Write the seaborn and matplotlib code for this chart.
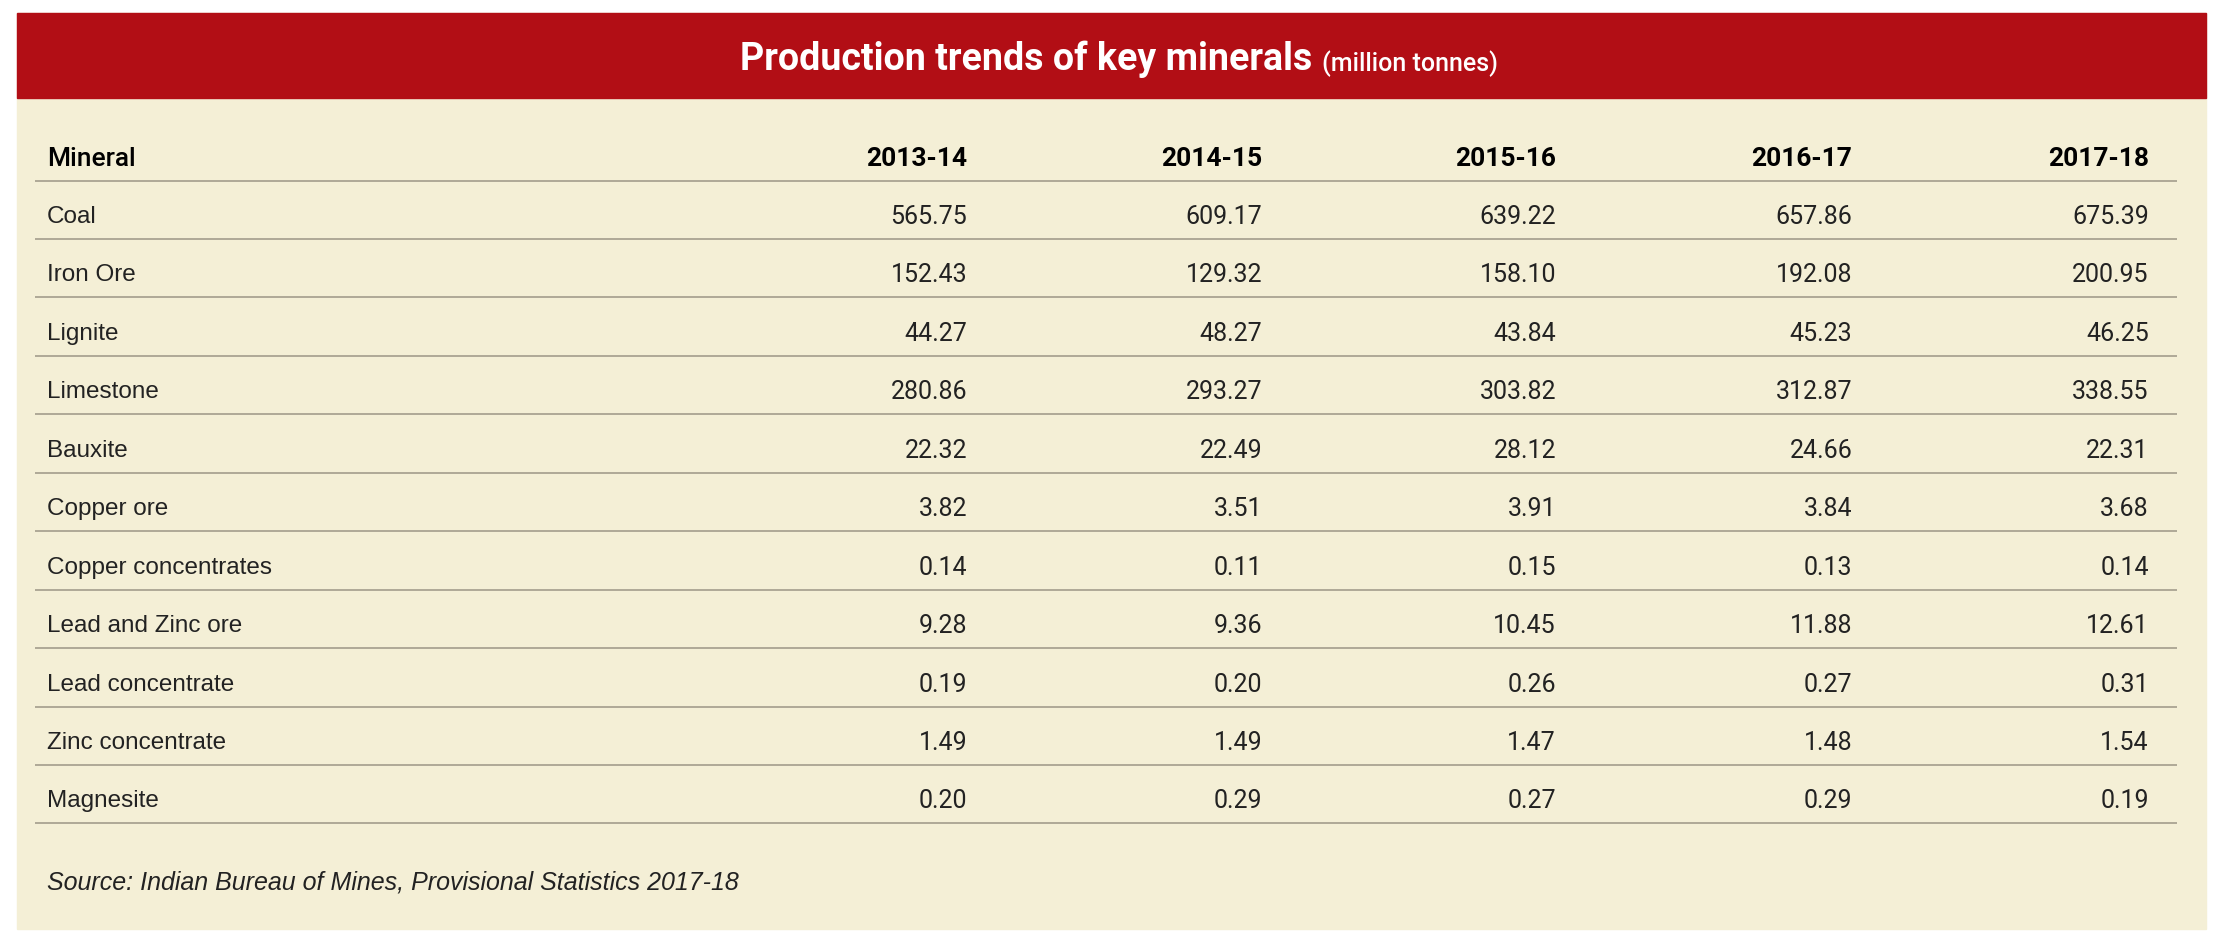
import matplotlib.pyplot as plt
import matplotlib.patches as patches
import seaborn as sns

minerals = ["Coal", "Iron Ore", "Lignite", "Limestone", "Bauxite", "Copper ore",
            "Copper concentrates", "Lead and Zinc ore", "Lead concentrate",
            "Zinc concentrate", "Magnesite"]
years = ["2013-14", "2014-15", "2015-16", "2016-17", "2017-18"]
v2013 = ["565.75", "152.43", "44.27", "280.86", "22.32", "3.82", "0.14", "9.28", "0.19", "1.49", "0.20"]
v2014 = ["609.17", "129.32", "48.27", "293.27", "22.49", "3.51", "0.11", "9.36", "0.20", "1.49", "0.29"]
v2015 = ["639.22", "158.10", "43.84", "303.82", "28.12", "3.91", "0.15", "10.45", "0.26", "1.47", "0.27"]
v2016 = ["657.86", "192.08", "45.23", "312.87", "24.66", "3.84", "0.13", "11.88", "0.27", "1.48", "0.29"]
v2017 = ["675.39", "200.95", "46.25", "338.55", "22.31", "3.68", "0.14", "12.61", "0.31", "1.54", "0.19"]
columns = [v2013, v2014, v2015, v2016, v2017]

sns.set_theme(style="white")
plt.rcParams['font.family'] = ['Roboto', 'DejaVu Sans']

fig = plt.figure(figsize=(22.24, 9.37), dpi=100)
ax = fig.add_axes([0, 0, 1, 1])
W, H = 1568, 660.6
ax.set_xlim(0, W)
ax.set_ylim(H, 0)
ax.axis("off")

bg = "#f4efd6"
red = "#b20e15"
line_c = "#a9a392"
txt = "#222222"

ax.add_patch(patches.Rectangle((12, 10), 1543, 646, color=bg, zorder=0))
ax.add_patch(patches.Rectangle((12, 10), 1543, 60, color=red, zorder=1))

ax.text(925, 42, "Production trends of key minerals", ha="right", va="center",
        fontsize=27, color="white", fontweight="bold", zorder=2)
ax.text(932, 45, "(million tonnes)", ha="left", va="center", fontsize=18,
        color="white", fontweight="medium", zorder=2)

col_x = [682, 890, 1097, 1306, 1515]
left_x = 33
header_y = 112
row_h = 41.2
first_y = 153

ax.text(left_x, header_y, "Mineral", ha="left", va="center", fontsize=19,
        fontweight="medium", color="black")
for x, yr in zip(col_x, years):
    ax.text(x, header_y, yr, ha="right", va="center", fontsize=19,
            fontweight="bold", color="black")

line_ys = [128 + i * row_h for i in range(len(minerals) + 1)]
ax.hlines(line_ys, 25, 1535, color=line_c, linewidth=1.3)

for i, m in enumerate(minerals):
    y = first_y + i * row_h
    ax.text(left_x, y, m, ha="left", va="center", fontsize=17.5, color=txt,
            family="Liberation Sans")
    for x, col in zip(col_x, columns):
        ax.text(x, y, col[i], ha="right", va="center", fontsize=18, color=txt)

ax.text(left_x, 622, "Source: Indian Bureau of Mines, Provisional Statistics 2017-18",
        ha="left", va="center", fontsize=18, style="italic", color=txt,
        family="Liberation Sans")

fig.savefig("out.png", dpi=100, facecolor="white")
